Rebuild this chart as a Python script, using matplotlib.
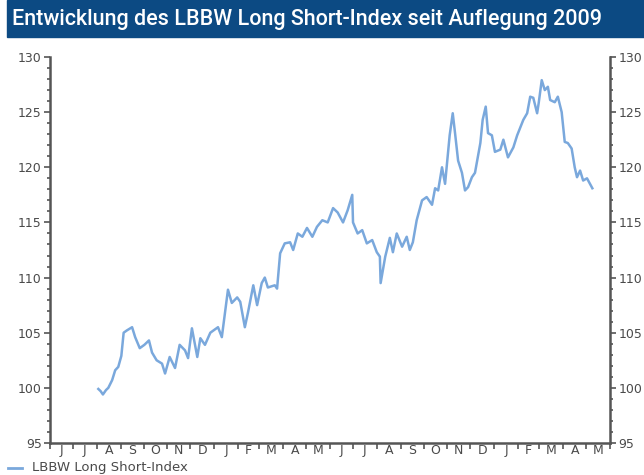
#!/usr/bin/env python3
"""Entwicklung des LBBW Long Short-Index seit Auflegung 2009."""

import pandas as pd
import matplotlib
matplotlib.use("Agg")
import matplotlib.pyplot as plt
import matplotlib.dates as mdates
from matplotlib.ticker import MultipleLocator, FixedLocator, FixedFormatter

TITLE = "Entwicklung des LBBW Long Short-Index seit Auflegung 2009"
SERIES_NAME = "LBBW Long Short-Index"

# Indexstände
dates = [
    "2009-08-03", "2009-08-06", "2009-08-09", "2009-08-13", "2009-08-16", "2009-08-21",
    "2009-08-25", "2009-08-29", "2009-09-02", "2009-09-05", "2009-09-09", "2009-09-16",
    "2009-09-20", "2009-09-26", "2009-10-02", "2009-10-08", "2009-10-12", "2009-10-18",
    "2009-10-25", "2009-10-29", "2009-11-04", "2009-11-11", "2009-11-17", "2009-11-24",
    "2009-11-28", "2009-12-03", "2009-12-10", "2009-12-14", "2009-12-20", "2009-12-27",
    "2010-01-06", "2010-01-11", "2010-01-19", "2010-01-24", "2010-01-31", "2010-02-04",
    "2010-02-10", "2010-02-14", "2010-02-21", "2010-02-26", "2010-03-04", "2010-03-08",
    "2010-03-12", "2010-03-21", "2010-03-24", "2010-03-28", "2010-04-03", "2010-04-10",
    "2010-04-14", "2010-04-20", "2010-04-26", "2010-05-02", "2010-05-09", "2010-05-15",
    "2010-05-22", "2010-05-29", "2010-06-05", "2010-06-11", "2010-06-18", "2010-06-24",
    "2010-06-30", "2010-07-01", "2010-07-07", "2010-07-13", "2010-07-19", "2010-07-26",
    "2010-08-01", "2010-08-05", "2010-08-06", "2010-08-12", "2010-08-18", "2010-08-22",
    "2010-08-27", "2010-09-03", "2010-09-09", "2010-09-13", "2010-09-17", "2010-09-22",
    "2010-09-29", "2010-10-05", "2010-10-12", "2010-10-16", "2010-10-20", "2010-10-25",
    "2010-10-29", "2010-11-04", "2010-11-08", "2010-11-11", "2010-11-15", "2010-11-20",
    "2010-11-24", "2010-11-28", "2010-12-03", "2010-12-07", "2010-12-14", "2010-12-17",
    "2010-12-21", "2010-12-24", "2010-12-29", "2011-01-02", "2011-01-09", "2011-01-13",
    "2011-01-19", "2011-01-26", "2011-01-31", "2011-02-04", "2011-02-08", "2011-02-13",
    "2011-02-17", "2011-02-21", "2011-02-26", "2011-02-28", "2011-03-04", "2011-03-08",
    "2011-03-12", "2011-03-15", "2011-03-21", "2011-03-25", "2011-03-30", "2011-04-03",
    "2011-04-07", "2011-04-12", "2011-04-16", "2011-04-19", "2011-04-23", "2011-04-27",
    "2011-05-02", "2011-05-09",
]
values = [
    99.9, 99.7, 99.4, 99.8, 100.0, 100.7,
    101.6, 101.9, 102.9, 105.0, 105.2, 105.5,
    104.6, 103.6, 103.9, 104.3, 103.2, 102.5,
    102.2, 101.3, 102.8, 101.8, 103.9, 103.4,
    102.7, 105.4, 102.8, 104.5, 103.9, 105.0,
    105.5, 104.6, 108.9, 107.7, 108.2, 107.8,
    105.5, 106.8, 109.3, 107.5, 109.5, 110.0,
    109.1, 109.3, 109.0, 112.2, 113.1, 113.2,
    112.5, 114.0, 113.7, 114.5, 113.7, 114.6,
    115.2, 115.0, 116.3, 115.9, 115.0, 116.1,
    117.5, 115.0, 114.0, 114.3, 113.1, 113.4,
    112.3, 111.9, 109.5, 111.9, 113.6, 112.3,
    114.0, 112.8, 113.7, 112.5, 113.2, 115.2,
    117.0, 117.3, 116.6, 118.1, 117.9, 120.0,
    118.5, 122.9, 124.9, 123.1, 120.6, 119.5,
    117.9, 118.2, 119.1, 119.5, 122.2, 124.3,
    125.5, 123.1, 122.9, 121.4, 121.6, 122.5,
    120.9, 121.8, 122.9, 123.6, 124.3, 124.9,
    126.4, 126.3, 124.9, 125.8, 127.9, 127.0,
    127.3, 126.1, 125.9, 126.4, 125.0, 122.3,
    122.2, 121.7, 120.0, 119.1, 119.7, 118.8,
    119.0, 118.1,
]

# Monatsachse Juni 2009 bis Mai 2011
month_starts = pd.date_range("2009-06-01", "2011-06-01", freq="MS")
month_labels = ["J", "J", "A", "S", "O", "N", "D", "J", "F", "M", "A", "M",
                "J", "J", "A", "S", "O", "N", "D", "J", "F", "M", "A", "M"]

LINE_COLOR = "#7aa8dc"
AXIS_COLOR = "#555555"
TEXT_COLOR = "#4a4a4a"
TITLE_BG = "#0c4a83"


def main():
    x = pd.to_datetime(dates)

    fig = plt.figure(figsize=(6.44, 4.75), dpi=100)

    # Titelbalken
    fig.patches.append(plt.Rectangle((7 / 644, 1 - 37 / 475), 1, 37 / 475,
                                     transform=fig.transFigure, color=TITLE_BG,
                                     zorder=0))
    fig.text(12 / 644, 1 - 19 / 475, TITLE, color="white", fontsize=15.5,
             family=["Roboto", "DejaVu Sans"], fontweight="medium",
             va="center", ha="left")

    ax = fig.add_axes([50 / 644, 32 / 475, 560 / 644, 386 / 475])
    ax.plot(x, values, color=LINE_COLOR, linewidth=1.8, solid_joinstyle="round")

    ax.set_xlim(month_starts[0], month_starts[-1])
    ax.set_ylim(95, 130)

    # Y-Achse beidseitig
    ax.yaxis.set_major_locator(MultipleLocator(5))
    ax.yaxis.set_minor_locator(MultipleLocator(1))
    ax.tick_params(axis="y", which="both", left=True, right=True,
                   labelleft=True, labelright=True, direction="out",
                   color=AXIS_COLOR, labelcolor=TEXT_COLOR, labelsize=9, pad=2)
    ax.tick_params(axis="y", which="major", length=4, width=1.2)
    ax.tick_params(axis="y", which="minor", length=2, width=1.2)

    # Monatsachse: Striche am Monatsanfang, Buchstaben in Monatsmitte
    mid_months = [s + (e - s) / 2 for s, e in zip(month_starts[:-1], month_starts[1:])]
    ax.xaxis.set_major_locator(FixedLocator(mdates.date2num(month_starts)))
    ax.xaxis.set_major_formatter(FixedFormatter([""] * len(month_starts)))
    ax.xaxis.set_minor_locator(FixedLocator(mdates.date2num(mid_months)))
    ax.xaxis.set_minor_formatter(FixedFormatter(month_labels))
    ax.tick_params(axis="x", which="major", direction="out", length=4, width=1.2,
                   color=AXIS_COLOR)
    ax.tick_params(axis="x", which="minor", length=0, labelcolor=TEXT_COLOR,
                   labelsize=9, pad=1)

    for side in ("left", "right", "bottom"):
        ax.spines[side].set_color(AXIS_COLOR)
        ax.spines[side].set_linewidth(1.8)
    ax.spines["top"].set_visible(False)

    # Legende unten links
    fig.add_artist(plt.Line2D([8 / 644, 22 / 644], [1 - 468 / 475] * 2,
                              transform=fig.transFigure, color=LINE_COLOR,
                              linewidth=2))
    fig.text(32 / 644, 1 - 468 / 475, SERIES_NAME, color=TEXT_COLOR, fontsize=9.5,
             va="center", ha="left")

    fig.savefig("out.png", dpi=100)
    plt.close(fig)


if __name__ == "__main__":
    main()
